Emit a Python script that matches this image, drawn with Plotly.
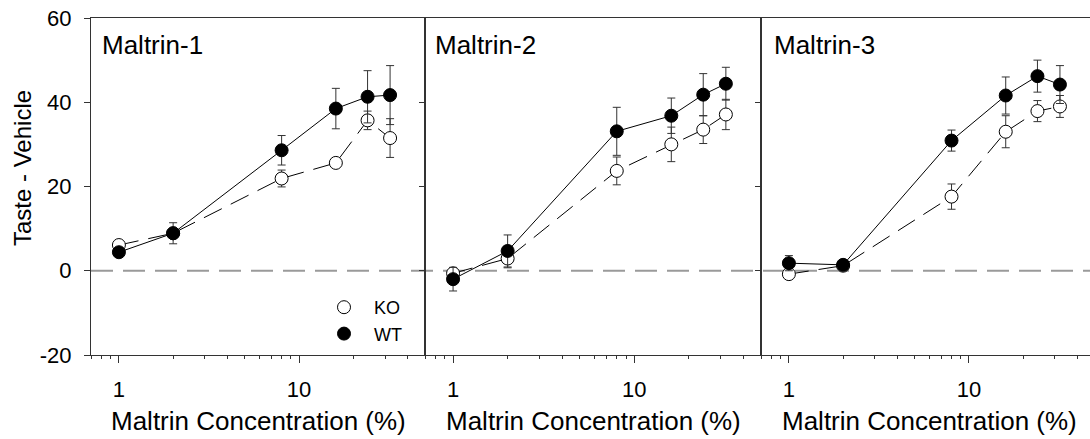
import numpy as np
import plotly.graph_objects as go

# ---------------- data ----------------
conc = [1, 2, 8, 16, 24, 32]
panels = ["Maltrin-1", "Maltrin-2", "Maltrin-3"]

ko_m1 = [6.1, 8.9, 21.9, 25.6, 35.7, 31.5]
ko_m1_err = [0.6, 1.0, 2.0, 1.0, 2.2, 4.6]
wt_m1 = [4.4, 8.9, 28.6, 38.5, 41.3, 41.7]
wt_m1_err = [1.0, 2.5, 3.5, 4.8, 6.2, 7.0]

ko_m2 = [-0.6, 2.9, 23.7, 30.0, 33.5, 37.1]
ko_m2_err = [1.3, 2.2, 3.3, 4.1, 3.3, 3.6]
wt_m2 = [-2.0, 4.7, 33.1, 36.8, 41.8, 44.4]
wt_m2_err = [2.8, 3.8, 5.7, 4.2, 5.0, 3.9]

ko_m3 = [-0.8, 1.2, 17.6, 33.0, 37.9, 39.0]
ko_m3_err = [0.6, 0.5, 3.0, 3.8, 2.5, 2.6]
wt_m3 = [1.8, 1.4, 30.9, 41.6, 46.2, 44.2]
wt_m3_err = [1.8, 0.5, 2.5, 4.4, 3.8, 4.5]

ko_all = [ko_m1, ko_m2, ko_m3]
ko_err_all = [ko_m1_err, ko_m2_err, ko_m3_err]
wt_all = [wt_m1, wt_m2, wt_m3]
wt_err_all = [wt_m1_err, wt_m2_err, wt_m3_err]

y_ticks = [-20, 0, 20, 40, 60]
y_tick_text = ["-20", "0", "20", "40", "60"]
x_major = [1, 10]
x_major_text = ["1", "10"]
x_minor = [0.7, 0.8, 0.9, 2, 3, 4, 5, 6, 7, 8, 9, 20, 30, 40]

# ---------------- layout geometry ----------------
W, H = 1090, 439
FONT = "Liberation Sans, Arial, sans-serif"
AX = "#333333"

def px(x):
    return x / W

def py(y):
    return (H - y) / H

x_doms = [[px(91), px(425)], [px(425), px(761)], [px(761), 1.0]]
x_ranges = [[np.log10(0.7), np.log10(50)],
            [np.log10(0.7), np.log10(50)],
            [np.log10(0.7), np.log10(47)]]
y_dom = [py(355), py(18)]

fig = go.Figure()

ebar = dict(type="data", thickness=1, width=4, color=AX)

for i in range(3):
    xa = "x" if i == 0 else f"x{i+1}"
    ya = "y" if i == 0 else f"y{i+1}"
    fig.add_trace(go.Scatter(
        x=conc, y=ko_all[i], xaxis=xa, yaxis=ya, mode="lines+markers",
        line=dict(color="black", width=1, dash="20px,10px"),
        marker=dict(symbol="circle", size=13, color="white",
                    line=dict(color="black", width=1)),
        error_y=dict(array=ko_err_all[i], **ebar),
        showlegend=False, hoverinfo="skip"))
    fig.add_trace(go.Scatter(
        x=conc, y=wt_all[i], xaxis=xa, yaxis=ya, mode="lines+markers",
        line=dict(color="black", width=1),
        marker=dict(symbol="circle", size=13, color="black",
                    line=dict(color="black", width=1)),
        error_y=dict(array=wt_err_all[i], **ebar),
        showlegend=False, hoverinfo="skip"))

# legend-only traces (also anchor the right-hand tick axes)
fig.add_trace(go.Scatter(x=[None], y=[None], xaxis="x", yaxis="y4", mode="markers",
                         name="KO", marker=dict(size=13, color="white",
                                                line=dict(color="black", width=1))))
fig.add_trace(go.Scatter(x=[None], y=[None], xaxis="x", yaxis="y4", mode="markers",
                         name="WT", marker=dict(size=13, color="black",
                                                line=dict(color="black", width=1))))
fig.add_trace(go.Scatter(x=[None], y=[None], xaxis="x2", yaxis="y5", mode="markers",
                         showlegend=False, hoverinfo="skip"))

layout = dict(
    width=W, height=H,
    margin=dict(l=0, r=0, t=0, b=0),
    paper_bgcolor="white", plot_bgcolor="white",
    font=dict(family=FONT, color="black", size=22),
    showlegend=True,
    legend=dict(x=px(314), y=py(289), xanchor="left", yanchor="top",
                bgcolor="rgba(0,0,0,0)", font=dict(size=18, family=FONT),
                itemwidth=50, tracegroupgap=0),
)

for i in range(3):
    key = "xaxis" if i == 0 else f"xaxis{i+1}"
    layout[key] = dict(
        domain=x_doms[i], anchor="y" if i == 0 else f"y{i+1}",
        type="log", range=x_ranges[i],
        tickmode="array", tickvals=x_major, ticktext=x_major_text,
        ticks="outside", ticklen=7, tickcolor=AX, tickwidth=1,
        minor=dict(tickmode="array", tickvals=x_minor, ticks="outside",
                   ticklen=3, tickcolor=AX, tickwidth=1, showgrid=False),
        showline=True, linecolor=AX, linewidth=1, mirror=True,
        showgrid=False, zeroline=False,
        tickfont=dict(size=22, family=FONT), ticklabelstandoff=8,
        automargin=False, fixedrange=True,
    )
    ykey = "yaxis" if i == 0 else f"yaxis{i+1}"
    layout[ykey] = dict(
        domain=y_dom, anchor="x" if i == 0 else f"x{i+1}",
        range=[-20, 60], tickmode="array", tickvals=y_ticks, ticktext=y_tick_text,
        ticks="outside" if i == 0 else "", ticklen=6, tickcolor=AX,
        showticklabels=(i == 0), tickfont=dict(size=22, family=FONT),
        ticklabelstandoff=8,
        showline=True, linecolor=AX, linewidth=1, mirror=False,
        showgrid=False, zeroline=False, automargin=False, fixedrange=True,
    )

# right-hand spines with inward ticks for panels 1 and 2
for k, (ov, anc) in zip([4, 5], [("y", "x"), ("y2", "x2")]):
    layout[f"yaxis{k}"] = dict(
        overlaying=ov, anchor=anc, side="right", range=[-20, 60],
        tickmode="array", tickvals=y_ticks, ticks="inside", ticklen=6,
        tickcolor=AX, showticklabels=False, showline=True, linecolor=AX,
        linewidth=1, showgrid=False, zeroline=False, automargin=False,
        fixedrange=True,
    )

fig.update_layout(**layout)

# zero reference line across all panels
fig.add_shape(type="line", xref="paper", yref="y", x0=px(91), x1=1.0, y0=0, y1=0,
              line=dict(color="#9a9a9a", width=2, dash="22px,10px"), layer="below")

# panel labels
label_x = [100, 433, 772]
for i in range(3):
    fig.add_annotation(text=panels[i], xref="paper", yref="paper",
                       x=px(label_x[i]), y=py(45), xanchor="left", yanchor="middle",
                       showarrow=False, font=dict(size=26, family=FONT))

# x titles
title_cx = [258, 593, 929]
for i in range(3):
    fig.add_annotation(text="Maltrin Concentration (%)", xref="paper", yref="paper",
                       x=px(title_cx[i]), y=py(421), xanchor="center", yanchor="middle",
                       showarrow=False, font=dict(size=26, family=FONT))

# y title
fig.add_annotation(text="Taste - Vehicle", xref="paper", yref="paper",
                   x=px(23), y=py(168), xanchor="center", yanchor="middle",
                   textangle=-90, showarrow=False, font=dict(size=24, family=FONT))

fig.write_html("out.html")
